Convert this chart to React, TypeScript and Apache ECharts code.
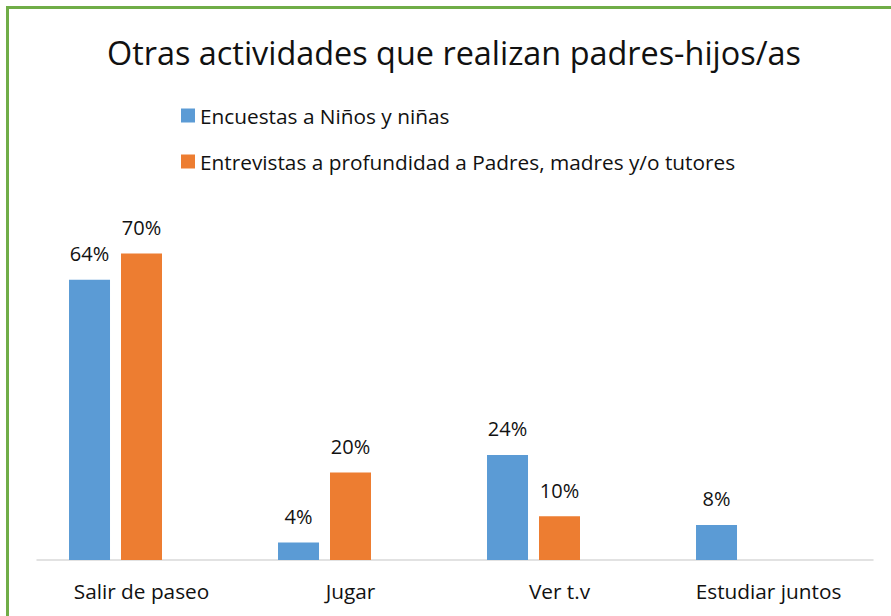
import React, { useEffect, useRef } from "react";
import * as echarts from "echarts";

const categories = ["Salir de paseo", "Jugar", "Ver t.v", "Estudiar juntos"];
const ninosValues = [64, 4, 24, 8];
const padresValues = [70, 20, 10, null];
const emptyValues = [null, null, null, null];
const seriesNames = [
  "Encuestas a Niños y niñas",
  "Entrevistas a profundidad a Padres, madres y/o tutores",
];
const titleText = "Otras actividades que realizan padres-hijos/as";

const FONT = "Open Sans";

export default function App() {
  const ref = useRef<HTMLDivElement>(null);
  useEffect(() => {
    if (!ref.current) return;
    const chart = echarts.init(ref.current, undefined, { renderer: "svg" });
    const labelStyle = {
      show: true,
      position: "top" as const,
      distance: 16,
      formatter: "{c}%",
      fontFamily: FONT,
      fontSize: 20,
      color: "#111",
    };
    chart.setOption({
      animation: false,
      backgroundColor: "#fff",
      graphic: [
        {
          type: "rect",
          shape: { x: 7.5, y: 7.5, width: 1000, height: 1000 },
          style: { fill: "none", stroke: "#70AD47", lineWidth: 3 },
          silent: true,
        },
        {
          type: "text",
          x: 454,
          y: 52,
          style: {
            text: titleText,
            fontFamily: FONT,
            fontSize: 32.4,
            fill: "#111",
            textAlign: "center",
            textVerticalAlign: "middle",
          },
        },
      ],
      legend: {
        orient: "vertical",
        left: 181,
        top: 105,
        padding: 0,
        itemWidth: 14,
        itemHeight: 14,
        itemGap: 25,
        icon: "rect",
        data: seriesNames,
        textStyle: {
          fontFamily: FONT,
          fontSize: 20.8,
          color: "#111",
          lineHeight: 14,
        },
      },
      grid: { left: 37, right: 18, top: 209.6, bottom: 56, containLabel: false },
      xAxis: {
        type: "category",
        data: categories,
        axisLine: { lineStyle: { color: "#d9d9d9", width: 1.5 } },
        axisTick: { show: false },
        axisLabel: {
          fontFamily: FONT,
          fontSize: 20.8,
          color: "#111",
          margin: 20,
        },
      },
      yAxis: {
        type: "value",
        min: 0,
        max: 80,
        show: false,
        splitLine: { show: false },
      },
      series: [
        {
          name: seriesNames[0],
          type: "bar",
          data: ninosValues,
          barWidth: 41,
          barGap: "26.8%",
          itemStyle: { color: "#5B9BD5" },
          label: labelStyle,
        },
        {
          name: seriesNames[1],
          type: "bar",
          data: padresValues,
          barWidth: 41,
          barGap: "26.8%",
          itemStyle: { color: "#ED7D31" },
          label: labelStyle,
        },
        {
          name: "",
          type: "bar",
          data: emptyValues,
          barWidth: 41,
          barGap: "26.8%",
          itemStyle: { color: "#A5A5A5" },
        },
      ],
    });
    return () => chart.dispose();
  }, []);
  return (
    <div
      ref={ref}
      style={{ position: "fixed", left: 0, top: 0, width: 891, height: 616 }}
    />
  );
}
